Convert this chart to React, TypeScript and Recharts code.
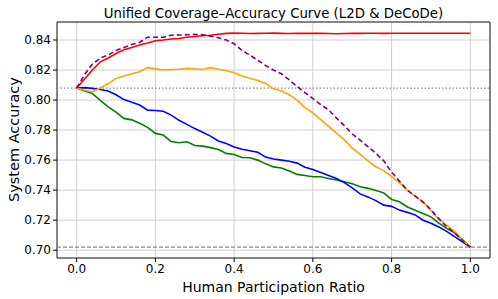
import React from 'react';
import { LineChart, Line, XAxis, YAxis, CartesianGrid, ReferenceLine, ReferenceArea } from 'recharts';

const ratios = Array.from({ length: 51 }, (_, i) => Math.round(i * 2) / 100);

const redSeries = [
	0.808, 0.814, 0.82, 0.8255, 0.828, 0.831, 0.8335, 0.835, 0.8367, 0.838,
	0.8395, 0.84, 0.8407, 0.841, 0.8418, 0.8423, 0.8428, 0.8432, 0.8438, 0.8444,
	0.8446, 0.8445, 0.8443, 0.8444, 0.8445, 0.8446, 0.8444, 0.8443, 0.8444, 0.8445,
	0.8444, 0.8444, 0.8443, 0.8442, 0.8443, 0.8444, 0.8444, 0.8445, 0.8445, 0.8444,
	0.8445, 0.8445, 0.8445, 0.8445, 0.8445, 0.8445, 0.8445, 0.8445, 0.8445, 0.8445,
	0.8445,
];
const purpleSeries = [
	0.808, 0.817, 0.824, 0.828, 0.83, 0.833, 0.835, 0.837, 0.8385, 0.8418,
	0.8418, 0.8418, 0.8432, 0.8433, 0.8435, 0.8438, 0.8435, 0.8425, 0.8415, 0.84,
	0.8375, 0.833, 0.83, 0.8265, 0.823, 0.82, 0.8175, 0.8135, 0.809, 0.805,
	0.801, 0.797, 0.7935, 0.788, 0.783, 0.7775, 0.7733, 0.769, 0.7645, 0.7595,
	0.752, 0.746, 0.74, 0.736, 0.732, 0.727, 0.721, 0.7156, 0.7115, 0.7065,
	0.702,
];
const orangeSeries = [
	0.808, 0.8065, 0.8055, 0.808, 0.811, 0.8144, 0.816, 0.8175, 0.8189, 0.8216,
	0.8208, 0.82, 0.8203, 0.8205, 0.8211, 0.8208, 0.8204, 0.8216, 0.8205, 0.8195,
	0.8182, 0.816, 0.8145, 0.813, 0.811, 0.8075, 0.806, 0.8035, 0.8, 0.795,
	0.7915, 0.787, 0.7825, 0.778, 0.7735, 0.768, 0.764, 0.7595, 0.7556, 0.753,
	0.749, 0.745, 0.74, 0.736, 0.7322, 0.7265, 0.7205, 0.7165, 0.7125, 0.707,
	0.702,
];
const blueSeries = [
	0.808, 0.8083, 0.8078, 0.807, 0.806, 0.8035, 0.8003, 0.7985, 0.7967, 0.7933,
	0.7931, 0.7925, 0.79, 0.7865, 0.7838, 0.781, 0.7785, 0.776, 0.7728, 0.771,
	0.7688, 0.7673, 0.7662, 0.7652, 0.762, 0.7608, 0.76, 0.7592, 0.758, 0.7552,
	0.7538, 0.7518, 0.7498, 0.7478, 0.745, 0.7415, 0.7375, 0.7355, 0.733, 0.73,
	0.7292, 0.7267, 0.7252, 0.7235, 0.72, 0.718, 0.7155, 0.7125, 0.709, 0.7055,
	0.702,
];
const greenSeries = [
	0.808, 0.806, 0.8043, 0.7998, 0.7955, 0.792, 0.7878, 0.7868, 0.7845, 0.7818,
	0.7778, 0.7767, 0.7724, 0.7716, 0.7722, 0.7697, 0.7693, 0.7683, 0.7671, 0.7645,
	0.7637, 0.7617, 0.7616, 0.76, 0.7575, 0.7555, 0.7548, 0.7528, 0.7505, 0.7497,
	0.7489, 0.7489, 0.7478, 0.7467, 0.7456, 0.7442, 0.7422, 0.7412, 0.7398, 0.7382,
	0.7338, 0.7322, 0.7288, 0.7266, 0.7244, 0.7222, 0.718, 0.7145, 0.7115, 0.707,
	0.702,
];

const xTicks = [0, 0.2, 0.4, 0.6, 0.8, 1.0];
const yTicks = [0.7, 0.72, 0.74, 0.76, 0.78, 0.8, 0.82, 0.84];
const baselineAccuracy = 0.808;
const humanOnlyAccuracy = 0.702;

const rows = ratios.map((r, i) => ({
	ratio: r,
	red: redSeries[i],
	purple: purpleSeries[i],
	orange: orangeSeries[i],
	blue: blueSeries[i],
	green: greenSeries[i],
}));

const font = '"DejaVu Sans", sans-serif';
const X_DOMAIN: [number, number] = [-0.05, 1.05];
const Y_DOMAIN: [number, number] = [0.6948, 0.852];

export default function App() {
	return (
		<div style={{ position: 'fixed', left: 0, top: 0, width: 498, height: 299, background: '#fff', fontFamily: font }}>
			<LineChart width={498} height={299} data={rows} margin={{ top: 22, right: 8, bottom: 0, left: 0 }}>
				<text x={273.5} y={18} textAnchor="middle" fontSize={13.3} fill="#000" fontFamily={font}>
					Unified Coverage–Accuracy Curve (L2D &amp; DeCoDe)
				</text>
				<CartesianGrid stroke="#cfcfcf" strokeWidth={1} />
				<XAxis
					dataKey="ratio"
					type="number"
					domain={X_DOMAIN}
					ticks={xTicks}
					tickFormatter={(v: number) => v.toFixed(1)}
					height={41}
					tickSize={4}
					tickLine={{ stroke: '#000' }}
					axisLine={false}
					tick={{ fill: '#000', fontSize: 12, fontFamily: font }}
					allowDataOverflow
					label={{ value: 'Human Participation Ratio', position: 'insideBottom', offset: 7, fill: '#000', fontSize: 14, fontFamily: font }}
				/>
				<YAxis
					type="number"
					domain={Y_DOMAIN}
					ticks={yTicks}
					tickFormatter={(v: number) => v.toFixed(2)}
					width={57}
					tickSize={4}
					tickLine={{ stroke: '#000' }}
					axisLine={false}
					tick={{ fill: '#000', fontSize: 12, fontFamily: font }}
					allowDataOverflow
					label={{ value: 'System Accuracy', angle: -90, position: 'insideLeft', offset: 14, dy: 62, fill: '#000', fontSize: 14.5, fontFamily: font }}
				/>
				<ReferenceLine y={baselineAccuracy} stroke="#8a8a8a" strokeWidth={1.2} strokeDasharray="1.5 2" />
				<ReferenceLine y={humanOnlyAccuracy} stroke="#8a8a8a" strokeWidth={1.2} strokeDasharray="4 2" />
				<Line type="linear" dataKey="green" stroke="#008000" strokeWidth={1.6} dot={false} isAnimationActive={false} />
				<Line type="linear" dataKey="blue" stroke="#0000ff" strokeWidth={1.6} dot={false} isAnimationActive={false} />
				<Line type="linear" dataKey="orange" stroke="#ffa500" strokeWidth={1.6} dot={false} isAnimationActive={false} />
				<Line type="linear" dataKey="red" stroke="#ff0000" strokeWidth={1.6} dot={false} isAnimationActive={false} />
				<Line type="linear" dataKey="purple" stroke="#800080" strokeWidth={1.6} strokeDasharray="5 3" dot={false} isAnimationActive={false} />
				<ReferenceArea x1={X_DOMAIN[0]} x2={X_DOMAIN[1]} y1={Y_DOMAIN[0]} y2={Y_DOMAIN[1]} fill="none" stroke="#222" strokeWidth={1} ifOverflow="visible" />
			</LineChart>
		</div>
	);
}
